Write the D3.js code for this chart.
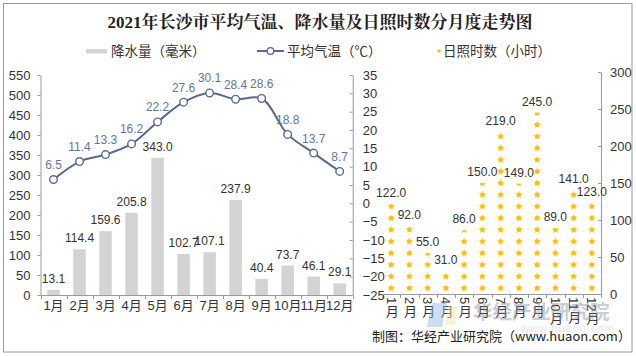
<!DOCTYPE html>
<html><head><meta charset="utf-8">
<script src="https://cdn.jsdelivr.net/npm/d3@7"></script>
<style>
body{margin:0;background:#fff;}
svg{display:block;}
text{font-family:"Liberation Sans","Noto Sans CJK SC",sans-serif;}
</style></head>
<body>
<svg id="c" width="636" height="356"></svg>
<script>
const months = ["1月","2月","3月","4月","5月","6月","7月","8月","9月","10月","11月","12月"];
const precip = [13.1,114.4,159.6,205.8,343.0,102.7,107.1,237.9,40.4,73.7,46.1,29.1];
const temp = [6.5,11.4,13.3,16.2,22.2,27.6,30.1,28.4,28.6,18.8,13.7,8.7];
const sunshine = [122,92,55,31,86,150,219,149,245,89,141,123];
const precipTicks = d3.range(0,551,50);
const tempTicks = d3.range(-25,36,5);
const sunTicks = d3.range(0,301,50);

const svg = d3.select("#c");
const CJK = '"Noto Sans CJK SC",sans-serif';
const lineColor = "#5a6a8e", labelTemp = "#6474a0", barColor = "#d3d3d3", sunColor = "#fdbf10";
const axisColor = "#999";

// frame
svg.append("rect").attr("x",3.5).attr("y",3.5).attr("width",628.5).attr("height",348.5)
  .attr("fill","#fff").attr("stroke","#9a9a9a");

// title
svg.append("text").attr("x",320).attr("y",28).attr("text-anchor","middle")
  .style("font-family",'"Liberation Serif","Noto Serif CJK SC","Noto Sans CJK SC",serif')
  .style("font-weight","bold").style("font-size","17px").attr("fill","#222")
  .text("2021年长沙市平均气温、降水量及日照时数分月度走势图");

// legend
const lg = svg.append("g").style("font-family",CJK).style("font-size","13.5px").attr("fill","#333");
lg.append("rect").attr("x",86).attr("y",49).attr("width",21).attr("height",4.5).attr("fill",barColor);
lg.append("text").attr("x",111).attr("y",51).attr("dominant-baseline","central").text("降水量（毫米）");
lg.append("line").attr("x1",257).attr("x2",284).attr("y1",51).attr("y2",51).attr("stroke",lineColor).attr("stroke-width",2);
lg.append("circle").attr("cx",270.5).attr("cy",51).attr("r",3.3).attr("fill","#fff").attr("stroke",lineColor).attr("stroke-width",1.3);
lg.append("text").attr("x",287).attr("y",51).attr("dominant-baseline","central").text("平均气温（℃）");
lg.append("circle").attr("cx",439).attr("cy",51).attr("r",1.8).attr("fill",sunColor);
lg.append("text").attr("x",443).attr("y",51).attr("dominant-baseline","central").text("日照时数（小时）");

// ---------- left panel ----------
const xL = d3.scaleBand().domain(months).range([40.5,352.7]).paddingInner(0.52).paddingOuter(0.26);
const yP = d3.scaleLinear().domain([0,550]).range([295,75]);
const yT = d3.scaleLinear().domain([-25,35]).range([295,75]);

function styleAxis(g){
  g.selectAll("path.domain").attr("stroke",axisColor);
  g.selectAll(".tick line").attr("stroke",axisColor);
  g.selectAll(".tick text").attr("fill","#333").style("font-size","13px").style("font-family",'"Liberation Sans",sans-serif');
}
const gPL = svg.append("g").attr("transform","translate(40.5,0)")
  .call(d3.axisLeft(yP).tickValues(precipTicks).tickSize(3).tickSizeOuter(0).tickPadding(7));
styleAxis(gPL);
const gT = svg.append("g").attr("transform","translate(352.7,0)")
  .call(d3.axisRight(yT).tickValues(tempTicks).tickSize(-3).tickSizeOuter(0).tickPadding(10));
styleAxis(gT);

// bottom axis left
const bL = svg.append("g");
bL.append("line").attr("x1",40.5).attr("x2",352.7).attr("y1",295.5).attr("y2",295.5).attr("stroke",axisColor);
bL.selectAll("line.t").data(d3.range(months.length+1)).join("line").attr("class","t")
  .attr("x1",i=>Math.round(40.5+i*xL.step())+0.5).attr("x2",i=>Math.round(40.5+i*xL.step())+0.5)
  .attr("y1",295.5).attr("y2",299).attr("stroke",axisColor);
bL.selectAll("text").data(months).join("text")
  .attr("x",d=>xL(d)+xL.bandwidth()/2).attr("y",310).attr("text-anchor","middle")
  .style("font-size","13px").attr("fill","#333").text(d=>d);

// bars
svg.append("g").selectAll("rect").data(precip).join("rect")
  .attr("x",(d,i)=>xL(months[i])).attr("width",xL.bandwidth())
  .attr("y",d=>yP(d)).attr("height",d=>yP(0)-yP(d)).attr("fill",barColor);
svg.append("g").selectAll("text").data(precip).join("text")
  .attr("x",(d,i)=>xL(months[i])+xL.bandwidth()/2).attr("y",d=>yP(d)-7)
  .attr("text-anchor","middle").style("font-size","12px").attr("fill","#333")
  .text(d=>d.toFixed(1));

// line
const cx = i=>xL(months[i])+xL.bandwidth()/2;
svg.append("path").datum(temp)
  .attr("d",d3.line().x((d,i)=>cx(i)).y(d=>yT(d)).curve(d3.curveCatmullRom.alpha(0.5)))
  .attr("fill","none").attr("stroke",lineColor).attr("stroke-width",2);
svg.append("g").selectAll("circle").data(temp).join("circle")
  .attr("cx",(d,i)=>cx(i)).attr("cy",d=>yT(d)).attr("r",3.8)
  .attr("fill","#fff").attr("stroke",lineColor).attr("stroke-width",1.4);
svg.append("g").selectAll("text").data(temp).join("text")
  .attr("x",(d,i)=>cx(i)).attr("y",d=>yT(d)-10.5).attr("text-anchor","middle")
  .style("font-size","12px").attr("fill",labelTemp).text(d=>d.toFixed(1));

// ---------- right panel ----------
const xS = d3.scaleBand().domain(months).range([382,601]).padding(0);
const yS = d3.scaleLinear().domain([0,300]).range([294,72]);
const gS = svg.append("g").attr("transform","translate(601,0)")
  .call(d3.axisRight(yS).tickValues(sunTicks).tickSize(-3).tickSizeOuter(0).tickPadding(9));
styleAxis(gS);
const bS = svg.append("g");
bS.append("line").attr("x1",382).attr("x2",601).attr("y1",294.5).attr("y2",294.5).attr("stroke",axisColor);
bS.selectAll("line.t").data(d3.range(months.length+1)).join("line").attr("class","t")
  .attr("x1",i=>Math.round(382+i*xS.step())+0.5).attr("x2",i=>Math.round(382+i*xS.step())+0.5)
  .attr("y1",294.5).attr("y2",298).attr("stroke",axisColor);

// watermark (behind labels)
const wm = svg.append("g").attr("opacity",0.45);
wm.append("path").attr("d","M432,303 L447,303 L442,327 L427,327 Z").attr("fill","#8fb8ec");
wm.append("path").attr("d","M448,306 L458,306 L455,325 L445,325 Z").attr("fill","#f3e3a0");
wm.append("text").attr("x",473).attr("y",319).style("font-family",CJK).style("font-size","19.5px")
  .style("font-weight","bold").attr("fill","#8b929c").text("华经产业研究院");
wm.append("text").attr("x",521).attr("y",332).style("font-size","11px").style("letter-spacing","1px")
  .attr("fill","#c8c8c8").text("www.huaon.com");

bS.selectAll("text").data(months).join("text")
  .attr("x",d=>xS(d)+xS.bandwidth()/2).attr("y",297)
  .attr("writing-mode","vertical-rl").style("text-orientation","mixed")
  .style("font-size","13px").attr("fill","#333").text(d=>d);

// pictograph dots
const dotStep = 11.67;
const defs = svg.append("defs");
sunshine.forEach((v,i)=>{
  defs.append("clipPath").attr("id","clip"+i).append("rect")
    .attr("x",xS(months[i])).attr("width",xS.bandwidth())
    .attr("y",yS(v)).attr("height",yS(0)-yS(v));
  const n = Math.ceil((yS(0)-yS(v))/dotStep);
  const g = svg.append("g").attr("clip-path",`url(#clip${i})`);
  const c = xS(months[i])+xS.bandwidth()/2;
  d3.range(n).forEach(k=>{
    const cy = yS(0)-dotStep*(k+0.5);
    g.append("path").attr("d",d3.symbol(d3.symbolStar,26)()).attr("transform",`translate(${c},${cy})`).attr("fill","#ffe07a");
    g.append("circle").attr("cx",c).attr("cy",cy).attr("r",2.3).attr("fill",sunColor);
  });
});
svg.append("g").selectAll("text").data(sunshine).join("text")
  .attr("x",(d,i)=>xS(months[i])+xS.bandwidth()/2).attr("y",d=>yS(d)-7)
  .attr("text-anchor","middle").style("font-size","12px").attr("fill","#333")
  .text(d=>d.toFixed(1));

// source
svg.append("text").attr("x",372).attr("y",341).style("font-family",CJK).style("font-size","13px")
  .attr("fill","#222").text("制图：华经产业研究院（www.huaon.com）");
</script>
</body></html>
